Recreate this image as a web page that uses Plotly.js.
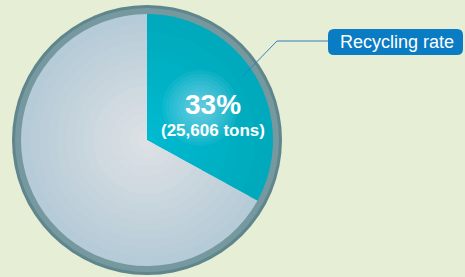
<!DOCTYPE html>
<html>
<head>
<meta charset="utf-8">
<script src="https://cdn.plot.ly/plotly-3.0.1.min.js"></script>
<style>
html,body{margin:0;padding:0;background:#e6efd6;}
#chart{width:465px;height:277px;}
</style>
</head>
<body>
<div id="chart"></div>
<script>
// ---- data ----
var categories = ['Recycling rate', 'Other'];
var shares = [33, 67];
var recycledTons = 25606;
var calloutLabel = 'Recycling rate';

// ---- styling (not data) ----
var W = 465, H = 277;
var cx = 147, cy = 137;        // pie centre, px from left / bottom
var R = 126;                   // pie radius px
var ringR = 135;               // outer ring radius px
var steps = 14;                // layered shading to mimic a radial gradient
function mix(a, b, t) {
  var pa = [parseInt(a.substr(1,2),16), parseInt(a.substr(3,2),16), parseInt(a.substr(5,2),16)];
  var pb = [parseInt(b.substr(1,2),16), parseInt(b.substr(3,2),16), parseInt(b.substr(5,2),16)];
  return 'rgb(' + pa.map(function(v,i){return Math.round(v + (pb[i]-v)*t);}).join(',') + ')';
}
var traces = [];
for (var i = 0; i < steps; i++) {
  var t = i / (steps - 1);
  var r = R * (1 - i / steps);
  traces.push({
    type: 'pie',
    labels: categories,
    values: shares,
    sort: false,
    direction: 'clockwise',
    rotation: 0,
    textinfo: 'none',
    hoverinfo: 'skip',
    showlegend: false,
    marker: { colors: [mix('#00a9bb', '#00bad0', t), mix('#b5cbd7', '#dde1e5', t)], line: { width: 0 } },
    domain: { x: [(cx - r) / W, (cx + r) / W], y: [(cy - r) / H, (cy + r) / H] }
  });
}

var shapes = [
  { type: 'circle', xref: 'paper', yref: 'paper', layer: 'below',
    x0: (cx - ringR) / W, x1: (cx + ringR) / W, y0: (cy - ringR) / H, y1: (cy + ringR) / H,
    fillcolor: '#5f858d', line: { width: 0 } },
  { type: 'circle', xref: 'paper', yref: 'paper', layer: 'below',
    x0: (cx - ringR + 3) / W, x1: (cx + ringR - 3) / W, y0: (cy - ringR + 3) / H, y1: (cy + ringR - 3) / H,
    fillcolor: '#76999f', line: { width: 0 } }
];
// soft glow behind the value label
for (var g = 0; g < 10; g++) {
  var gr = 38 - g * 3.6;
  shapes.push({ type: 'circle', xref: 'paper', yref: 'paper',
    x0: (200 - gr) / W, x1: (200 + gr) / W, y0: (H - 108 - gr) / H, y1: (H - 108 + gr) / H,
    fillcolor: 'rgba(160,225,248,0.085)', line: { width: 0 } });
}
// leader line
shapes.push({ type: 'path', xref: 'paper', yref: 'paper',
  path: 'M ' + (243 / W) + ',' + ((H - 76) / H) + ' L ' + (277 / W) + ',' + ((H - 41) / H) + ' L ' + (330 / W) + ',' + ((H - 41) / H),
  line: { color: '#2f7fc0', width: 1 } });
// rounded callout box
var bw = 67.5, bh = 13, rr = 6;
shapes.push({ type: 'path', xref: 'paper', yref: 'paper', xsizemode: 'pixel', ysizemode: 'pixel',
  xanchor: 395.5 / W, yanchor: (H - 42) / H,
  path: 'M ' + (-bw + rr) + ',' + (-bh) + ' L ' + (bw - rr) + ',' + (-bh) +
        ' Q ' + bw + ',' + (-bh) + ' ' + bw + ',' + (-bh + rr) +
        ' L ' + bw + ',' + (bh - rr) + ' Q ' + bw + ',' + bh + ' ' + (bw - rr) + ',' + bh +
        ' L ' + (-bw + rr) + ',' + bh + ' Q ' + (-bw) + ',' + bh + ' ' + (-bw) + ',' + (bh - rr) +
        ' L ' + (-bw) + ',' + (-bh + rr) + ' Q ' + (-bw) + ',' + (-bh) + ' ' + (-bw + rr) + ',' + (-bh) + ' Z',
  fillcolor: '#0a7cc3', line: { width: 0 } });

var annotations = [
  { xref: 'paper', yref: 'paper', x: 213 / W, y: (H - 104) / H, xanchor: 'center', yanchor: 'middle',
    text: '<b>' + shares[0] + '%</b>', showarrow: false,
    font: { family: 'Liberation Sans, Arial, sans-serif', size: 28, color: '#ffffff' } },
  { xref: 'paper', yref: 'paper', x: 212.5 / W, y: (H - 130) / H, xanchor: 'center', yanchor: 'middle',
    text: '<b>(' + recycledTons.toLocaleString('en-US') + ' tons)</b>', showarrow: false,
    font: { family: 'Liberation Sans, Arial, sans-serif', size: 17, color: '#ffffff' } },
  { xref: 'paper', yref: 'paper', x: 396.5 / W, y: (H - 42) / H, xanchor: 'center', yanchor: 'middle',
    text: calloutLabel, showarrow: false,
    font: { family: 'Liberation Sans, Arial, sans-serif', size: 18, color: '#ffffff' } }
];

Plotly.newPlot('chart', traces, {
  width: W, height: H,
  margin: { l: 0, r: 0, t: 0, b: 0 },
  paper_bgcolor: '#e6efd6',
  plot_bgcolor: '#e6efd6',
  showlegend: false,
  shapes: shapes,
  annotations: annotations
}, { displayModeBar: false, staticPlot: true });
</script>
</body>
</html>
